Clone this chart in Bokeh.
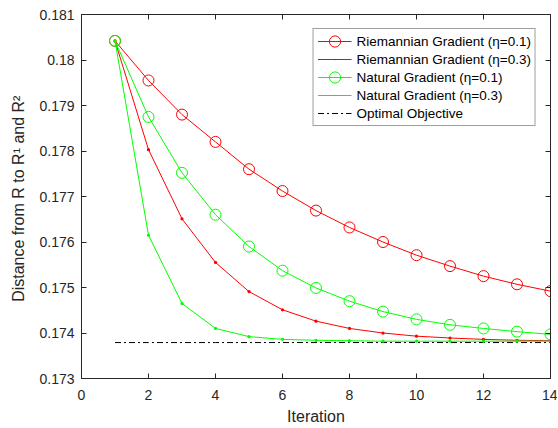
from bokeh.plotting import figure
from bokeh.models import LinearAxis, FixedTicker, Range1d, Legend, LegendItem
from bokeh.embed import file_html
from bokeh.resources import INLINE

iterations = list(range(1, 15))
rg_01 = [0.18042, 0.17955, 0.17880, 0.17820, 0.17760, 0.17712, 0.17669, 0.17632,
         0.17600, 0.17571, 0.17547, 0.17525, 0.17507, 0.17492]
rg_03 = [0.18042, 0.17803, 0.17651, 0.17555, 0.17491, 0.17451, 0.17426, 0.17410,
         0.17400, 0.17393, 0.17389, 0.17386, 0.17384, 0.17383]
ng_01 = [0.18042, 0.17875, 0.17752, 0.17660, 0.17590, 0.17537, 0.17499, 0.17470,
         0.17447, 0.17430, 0.17418, 0.17410, 0.17403, 0.17397]
ng_03 = [0.18042, 0.17615, 0.17465, 0.17410, 0.17392, 0.17386, 0.17384, 0.17383,
         0.17382, 0.17382, 0.17382, 0.17382, 0.17382, 0.17382]
optimal = [0.17379] * 14

x_ticks = [0, 2, 4, 6, 8, 10, 12, 14]
y_ticks = [0.173, 0.174, 0.175, 0.176, 0.177, 0.178, 0.179, 0.180, 0.181]
y_tick_labels = ["0.173", "0.174", "0.175", "0.176", "0.177", "0.178", "0.179", "0.18", "0.181"]

FONT = "Liberation Sans"
TXT = "#262626"

p = figure(width=557, height=427, output_backend="svg", toolbar_location=None,
           x_range=Range1d(0, 14), y_range=Range1d(0.173, 0.181),
           min_border_left=81, min_border_right=7, min_border_top=14, min_border_bottom=48)
p.xgrid.visible = False
p.ygrid.visible = False
p.outline_line_color = TXT
p.background_fill_color = "white"
p.border_fill_color = "white"

def style_axis(ax, ticks, show_labels=True):
    ax.ticker = FixedTicker(ticks=ticks)
    ax.major_tick_in = 5
    ax.major_tick_out = 0
    ax.minor_tick_line_color = None
    ax.axis_line_color = TXT
    ax.major_tick_line_color = TXT
    ax.major_label_text_font = FONT
    ax.major_label_text_color = TXT if show_labels else None
    ax.major_label_text_font_size = "14px"
    ax.axis_label_text_font = FONT
    ax.axis_label_text_color = TXT
    ax.axis_label_text_font_size = "16px"
    ax.axis_label_text_font_style = "normal"

style_axis(p.xaxis[0], x_ticks)
style_axis(p.yaxis[0], y_ticks)
p.xaxis[0].axis_label = "Iteration"
p.yaxis[0].axis_label = "Distance from R to R\u00b9 and  R\u00b2"
p.yaxis[0].major_label_overrides = {t: l for t, l in zip(y_ticks, y_tick_labels)}
p.xaxis[0].major_label_standoff = 11
p.yaxis[0].major_label_standoff = 7
p.xaxis[0].axis_label_standoff = 5
p.yaxis[0].axis_label_standoff = 9

top = LinearAxis()
style_axis(top, x_ticks, show_labels=False)
top.major_label_standoff = 0
p.add_layout(top, "above")
right = LinearAxis()
style_axis(right, y_ticks, show_labels=False)
right.major_label_standoff = 0
p.add_layout(right, "right")

red = "#ff0000"
green = "#00ff00"

opt_line = p.line(iterations, optimal, line_color="black", line_width=1, line_dash="6 3 2 3")

l1 = p.line(iterations, rg_01, line_color=red, line_width=1)
m1 = p.ellipse(iterations, rg_01, width=11, height=11, width_units="screen", height_units="screen",
               fill_color=None, line_color=red, line_width=1)
l2 = p.line(iterations, rg_03, line_color=red, line_width=1)
m2 = p.scatter(iterations, rg_03, marker="dot", size=13, line_color=red)
l3 = p.line(iterations, ng_01, line_color=green, line_width=1)
m3 = p.ellipse(iterations, ng_01, width=11, height=11, width_units="screen", height_units="screen",
               fill_color=None, line_color=green, line_width=1)
l4 = p.line(iterations, ng_03, line_color=green, line_width=1)
m4 = p.scatter(iterations, ng_03, marker="dot", size=13, line_color=green)

legend = Legend(items=[
    LegendItem(label="Riemannian Gradient (\u03b7=0.1)", renderers=[l1, m1]),
    LegendItem(label="Riemannian Gradient (\u03b7=0.3)", renderers=[l2, m2]),
    LegendItem(label="Natural Gradient (\u03b7=0.1)", renderers=[l3, m3]),
    LegendItem(label="Natural Gradient (\u03b7=0.3)", renderers=[l4, m4]),
    LegendItem(label="Optimal Objective", renderers=[opt_line]),
], location="top_right")
legend.margin = 14
legend.padding = 4
legend.spacing = 2
legend.glyph_width = 34
legend.glyph_height = 14
legend.label_height = 16
legend.label_standoff = 5
legend.label_text_font = FONT
legend.label_text_font_size = "13.5px"
legend.label_text_color = "black"
legend.border_line_color = "#404040"
legend.border_line_width = 1
legend.background_fill_color = "white"
legend.background_fill_alpha = 1
p.add_layout(legend, "center")

open("out.html", "w").write(file_html(p, INLINE))
